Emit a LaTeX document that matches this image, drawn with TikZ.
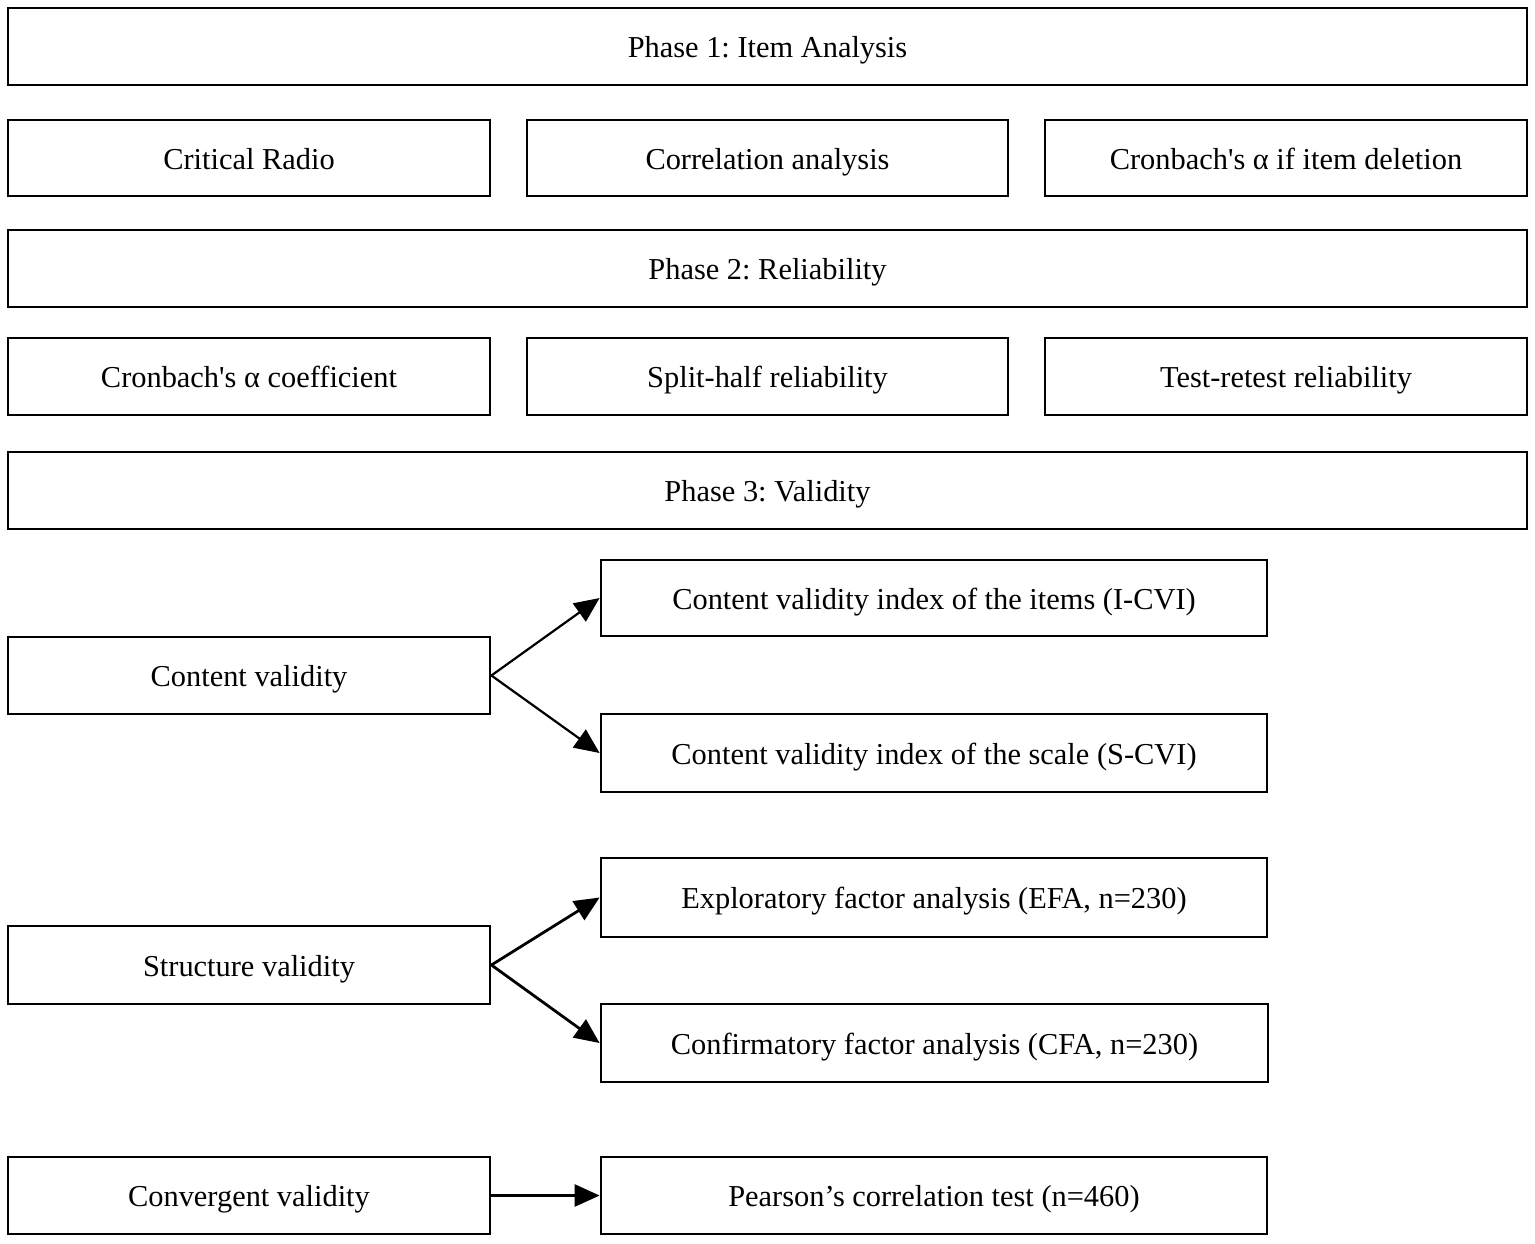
\documentclass[tikz,border=0pt]{standalone}
\usepackage{fontspec}
\setmainfont{Liberation Serif}[Ligatures=TeXOff]
\usetikzlibrary{arrows.meta}
\begin{document}
\frenchspacing
\begin{tikzpicture}[x=0.5pt,y=-0.5pt,
  box/.style={draw, line width=1.4pt, inner sep=0pt, text height=12.5pt, text depth=1.5pt, font=\fontsize{15.2}{17}\selectfont, anchor=center},
  arr/.style={line width=1.1pt, -{Triangle[length=12.5pt,width=11pt]}},
  arrb/.style={line width=1.4pt, -{Triangle[length=12.5pt,width=11pt]}}]
\useasboundingbox (0,0) rectangle (1535,1243);
\newcommand\bx[6]{\node[box, minimum width=#4*0.5pt-#2*0.5pt, minimum height=#5*0.5pt-#3*0.5pt] (#1) at ({(#2+#4)/2},{(#3+#5)/2}) {#6};}
\bx{p1}{8}{8}{1527}{85}{Phase 1: Item Analysis}
\bx{cr}{8}{120}{490}{196}{Critical Radio}
\bx{ca}{527}{120}{1008}{196}{Correlation analysis}
\bx{cd}{1045}{120}{1527}{196}{Cronbach's α if item deletion}
\bx{p2}{8}{230}{1527}{307}{Phase 2: Reliability}
\bx{ac}{8}{338}{490}{415}{Cronbach's α coefficient}
\bx{sh}{527}{338}{1008}{415}{Split-half reliability}
\bx{tr}{1045}{338}{1527}{415}{Test-retest reliability}
\bx{p3}{8}{452}{1527}{529}{Phase 3: Validity}
\bx{cv}{8}{637}{490}{714}{Content validity}
\bx{icvi}{601}{560}{1267}{636}{Content validity index of the items (I-CVI)}
\bx{scvi}{601}{714}{1267}{792}{Content validity index of the scale (S-CVI)}
\bx{sv}{8}{926}{490}{1004}{Structure validity}
\bx{efa}{601}{858}{1267}{937}{Exploratory factor analysis (EFA, n=230)}
\bx{cfa}{601}{1004}{1268}{1082}{Confirmatory factor analysis (CFA, n=230)}
\bx{gv}{8}{1157}{490}{1234}{Convergent validity}
\bx{pc}{601}{1157}{1267}{1234}{Pearson’s correlation test (n=460)}
\draw[arr] (cv.east) -- (icvi.west);
\draw[arr] (cv.east) -- (scvi.west);
\draw[arrb] (sv.east) -- (efa.west);
\draw[arrb] (sv.east) -- (cfa.west);
\draw[arrb] (gv.east) -- (pc.west);
\end{tikzpicture}
\end{document}
